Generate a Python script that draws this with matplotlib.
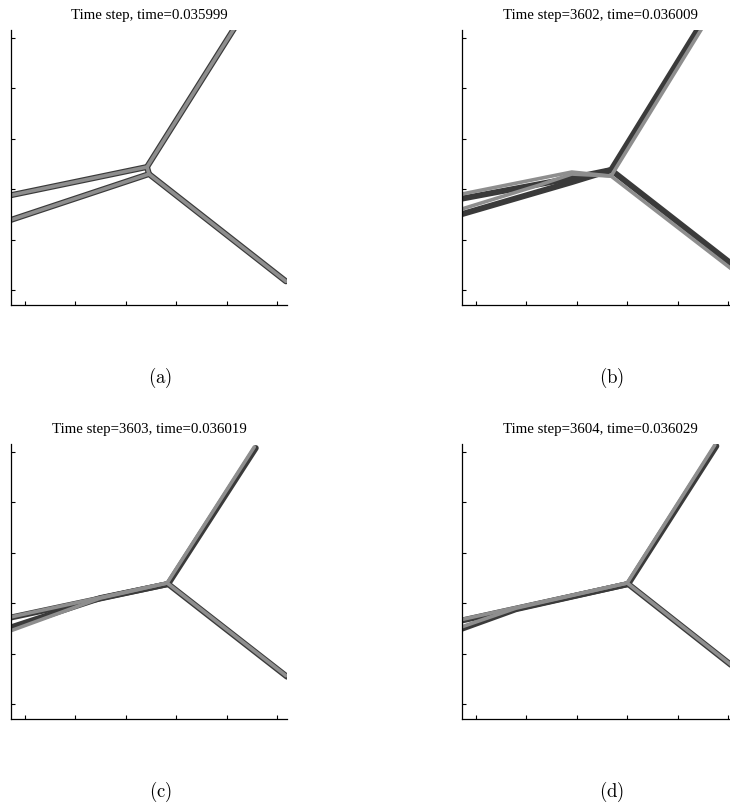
import matplotlib
matplotlib.use("Agg")
import matplotlib.pyplot as plt

# panel titles and captions
titles = [
    "Time step, time=0.035999",
    "Time step=3602, time=0.036009",
    "Time step=3603, time=0.036019",
    "Time step=3604, time=0.036029",
]
captions = ["(a)", "(b)", "(c)", "(d)"]

# interface polylines per panel: previous state (dark) and current state (gray)
a_dark_x = [[-0.40, 2.42, 4.22], [-0.40, 2.46, 5.18], [2.42, 2.46]]
a_dark_y = [[1.855, 2.44, 5.30], [1.35, 2.30, 0.17], [2.44, 2.30]]
a_gray_x = [[-0.40, 2.42, 4.22], [-0.40, 2.46, 5.18], [2.42, 2.46]]
a_gray_y = [[1.855, 2.44, 5.30], [1.35, 2.30, 0.17], [2.44, 2.30]]

b_dark_x = [[-0.40, 1.90, 2.68, 4.48], [-0.40, 1.90, 2.68, 5.22]]
b_dark_y = [[1.79, 2.22, 2.38, 5.30], [1.47, 2.14, 2.38, 0.40]]
b_gray_x = [[-0.40, 1.90, 2.68, 4.55], [-0.40, 1.25, 1.90, 2.68, 5.22]]
b_gray_y = [[1.88, 2.34, 2.26, 5.30], [1.57, 2.08, 2.30, 2.26, 0.30]]

c_dark_x = [[-0.40, 2.84, 4.58], [-0.40, 1.49, 2.84], [2.84, 5.20]]
c_dark_y = [[1.69, 2.38, 5.08], [1.48, 2.10, 2.38], [2.38, 0.54]]
c_gray_x = [[-0.40, 2.82, 4.55], [-0.40, 1.49, 2.82], [2.82, 5.18]]
c_gray_y = [[1.70, 2.40, 5.10], [1.41, 2.10, 2.40], [2.40, 0.56]]

d_dark_x = [[-0.40, 3.02, 4.77], [-0.40, 0.79, 3.02], [3.02, 5.32]]
d_dark_y = [[1.63, 2.38, 5.12], [1.45, 1.88, 2.38], [2.38, 0.57]]
d_gray_x = [[-0.40, 3.00, 4.74], [-0.40, 0.79, 3.00], [3.00, 5.30]]
d_gray_y = [[1.65, 2.40, 5.14], [1.49, 1.90, 2.40], [2.40, 0.59]]

ticks = [0, 1, 2, 3, 4, 5]

DARK = "#3a3a3a"
GRAY = "#8e8e8e"


def draw_panel(ax, dark_x, dark_y, gray_x, gray_y, title):
    for xs, ys in zip(dark_x, dark_y):
        ax.plot(xs, ys, color=DARK, linewidth=4.3,
                solid_capstyle="round", solid_joinstyle="round")
    for xs, ys in zip(gray_x, gray_y):
        ax.plot(xs, ys, color=GRAY, linewidth=2.6,
                solid_capstyle="round", solid_joinstyle="round")

    ax.set_xlim(-0.28, 5.2)
    ax.set_ylim(-0.30, 5.16)
    ax.set_xticks(ticks)
    ax.set_yticks(ticks)
    ax.set_xticklabels([])
    ax.set_yticklabels([])
    ax.tick_params(direction="in", length=3, width=0.8, color="black")
    ax.spines["top"].set_visible(False)
    ax.spines["right"].set_visible(False)
    ax.spines["left"].set_linewidth(0.9)
    ax.spines["bottom"].set_linewidth(0.9)
    ax.set_title(title, fontsize=10.7, family="Liberation Serif", pad=8)


def main():
    plt.rcParams["mathtext.fontset"] = "cm"

    fig = plt.figure(figsize=(7.3, 8.06), dpi=100)
    w = 276 / 730
    h = 275 / 806
    lefts = [11 / 730, 462 / 730, 11 / 730, 462 / 730]
    bottoms = [1 - 305 / 806, 1 - 305 / 806, 1 - 719 / 806, 1 - 719 / 806]

    panels = [
        (a_dark_x, a_dark_y, a_gray_x, a_gray_y),
        (b_dark_x, b_dark_y, b_gray_x, b_gray_y),
        (c_dark_x, c_dark_y, c_gray_x, c_gray_y),
        (d_dark_x, d_dark_y, d_gray_x, d_gray_y),
    ]

    for i, (dx, dy, gx, gy) in enumerate(panels):
        ax = fig.add_axes([lefts[i], bottoms[i], w, h])
        draw_panel(ax, dx, dy, gx, gy, titles[i])

    cap_x = [160 / 730, 612 / 730, 160 / 730, 612 / 730]
    cap_y = [1 - 378 / 806, 1 - 378 / 806, 1 - 792 / 806, 1 - 792 / 806]
    for i, cap in enumerate(captions):
        fig.text(cap_x[i], cap_y[i], r"$\mathrm{" + cap + "}$",
                 fontsize=13.5, ha="center", va="center")

    fig.savefig("out.png", dpi=100)
    plt.close(fig)


if __name__ == "__main__":
    main()
